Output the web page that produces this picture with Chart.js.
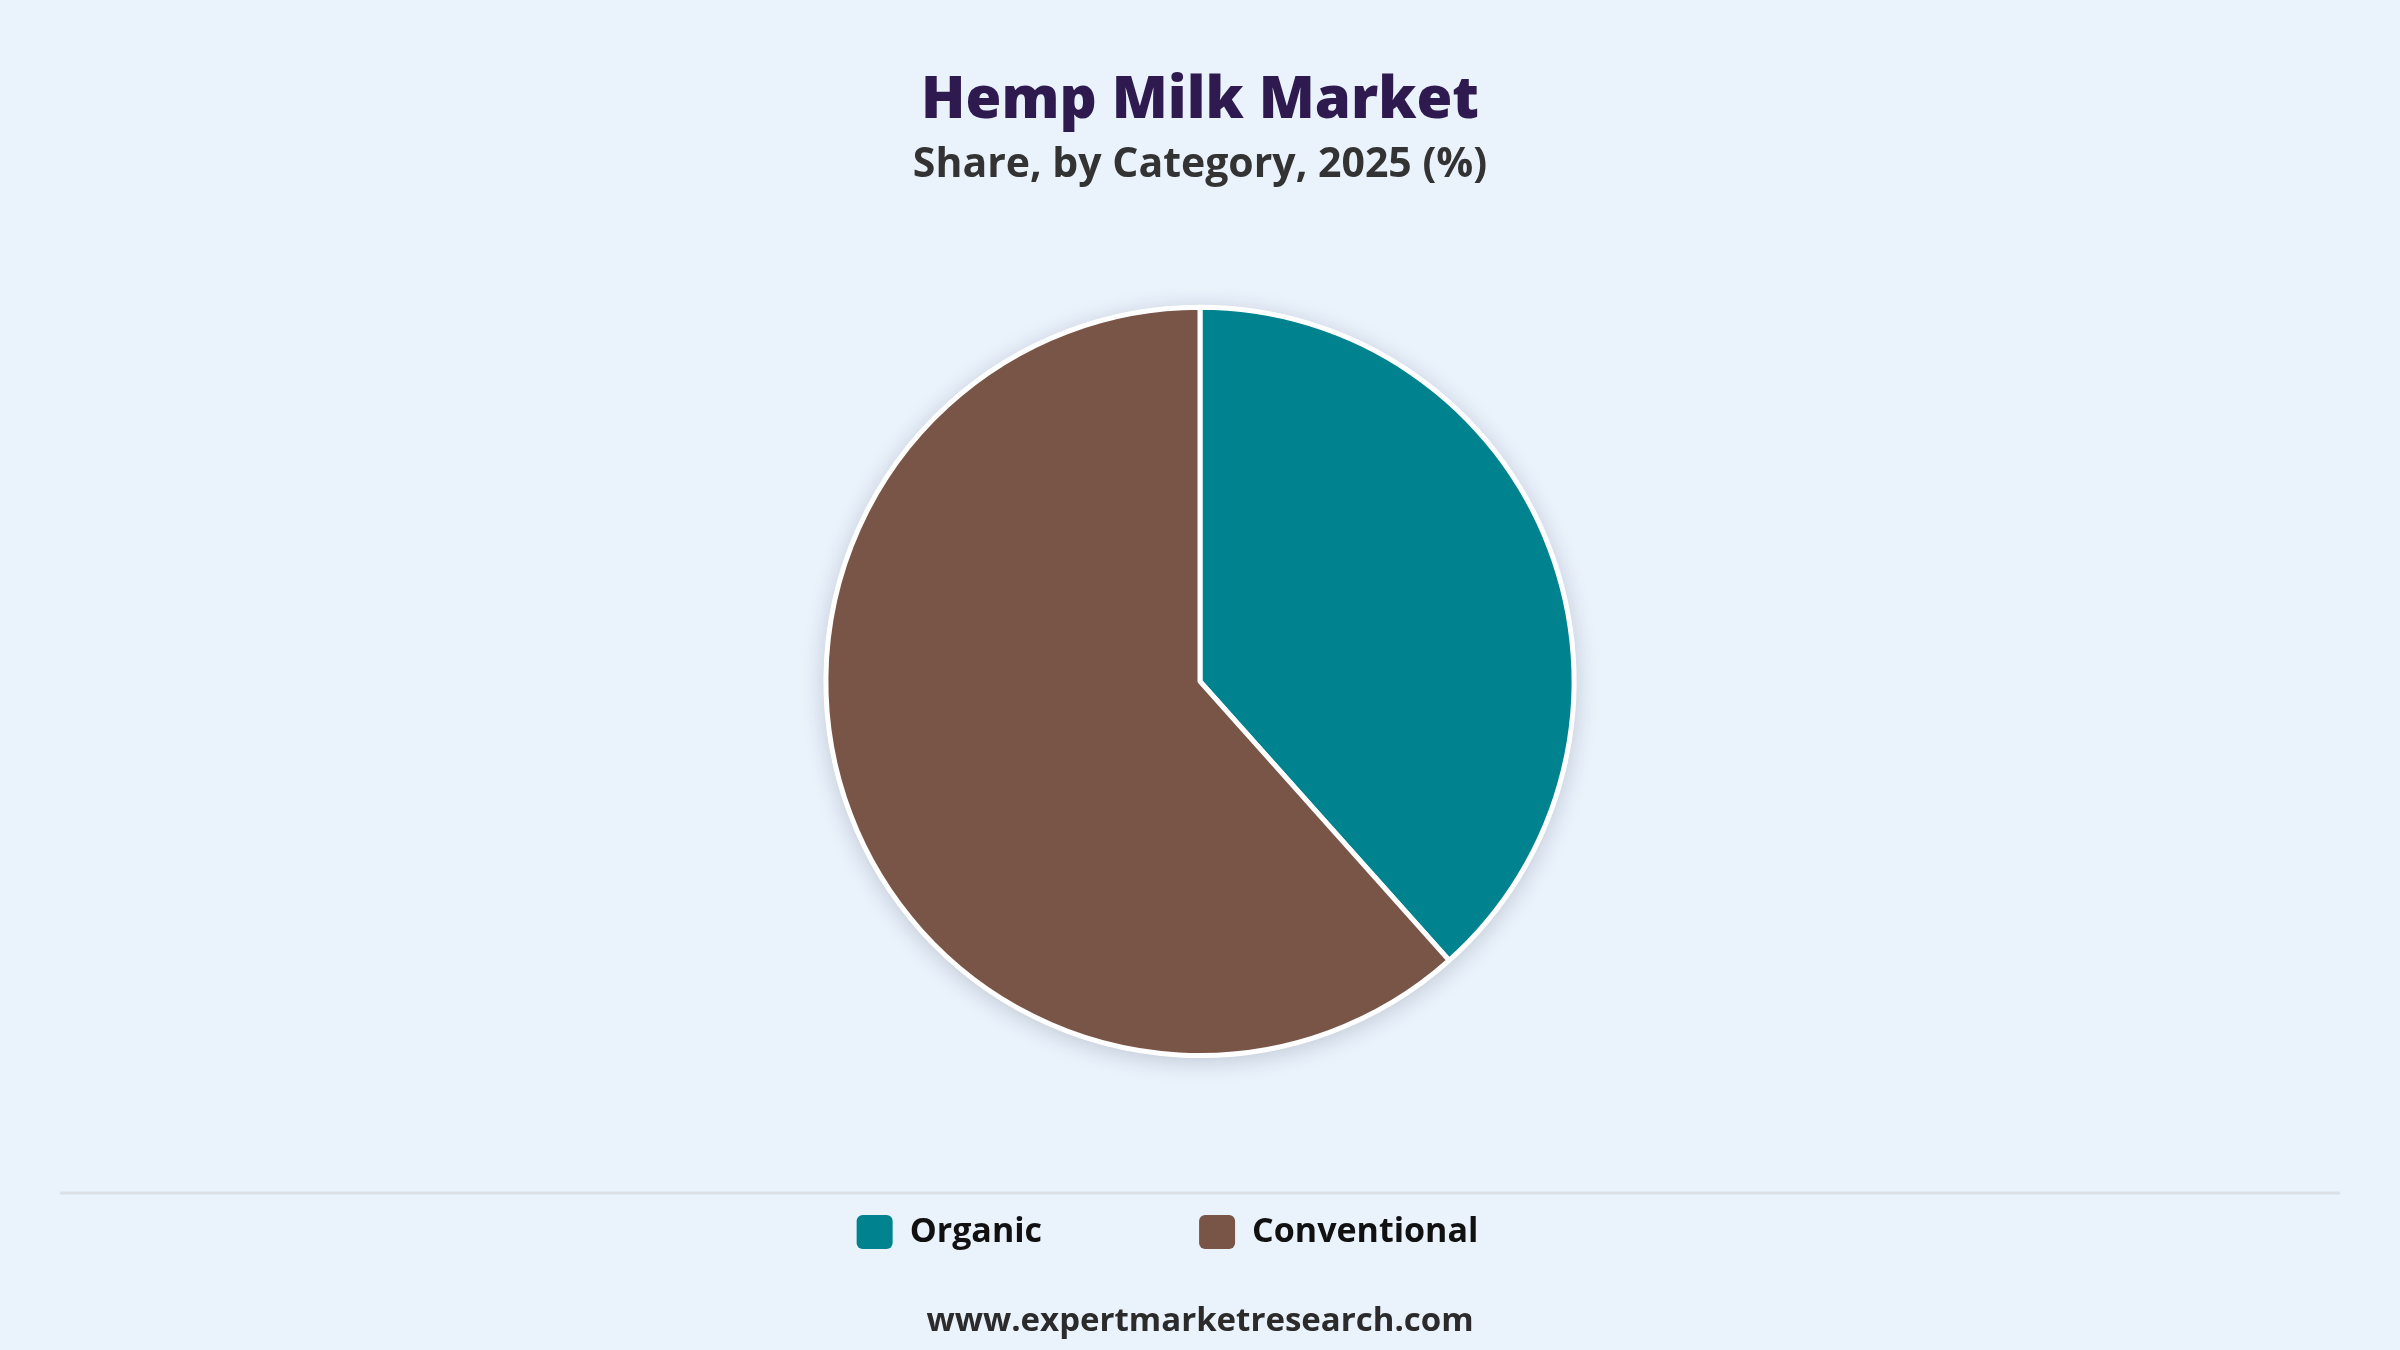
<!DOCTYPE html>
<html>
<head>
<meta charset="utf-8">
<script src="https://cdn.jsdelivr.net/npm/chart.js@4.4.1/dist/chart.umd.min.js"></script>
<style>
  html, body { margin: 0; padding: 0; background: #eaf2fc; }
  #wrap { width: 2400px; height: 1350px; position: relative; }
  canvas { display: block; }
</style>
</head>
<body>
<div id="wrap"><canvas id="c" width="2400" height="1350"></canvas></div>
<script>
// ---- Data ----
const categories = ['Organic', 'Conventional'];
const shares = [38.4, 61.6];
const titleText = 'Hemp Milk Market';
const subtitleText = 'Share, by Category, 2025 (%)';
const footerText = 'www.expertmarketresearch.com';

// ---- Styles ----
const palette = ['#00838F', '#795548'];
const FONT = "'Open Sans', 'Noto Sans', sans-serif";
const LEGEND_SHIFT = 65;

const bgPlugin = {
  id: 'bg',
  beforeDraw(chart) {
    const ctx = chart.ctx;
    ctx.save();
    ctx.fillStyle = '#eaf2fc';
    ctx.fillRect(0, 0, chart.width, chart.height);
    ctx.restore();
  }
};

const shadowPlugin = {
  id: 'pieShadow',
  beforeDatasetsDraw(chart) {
    const meta = chart.getDatasetMeta(0);
    if (!meta.data.length) return;
    const arc = meta.data[0];
    const ctx = chart.ctx;
    ctx.save();
    ctx.shadowColor = 'rgba(40, 50, 70, 0.22)';
    ctx.shadowBlur = 22;
    ctx.shadowOffsetX = 0;
    ctx.shadowOffsetY = 4;
    ctx.fillStyle = '#ffffff';
    ctx.beginPath();
    ctx.arc(arc.x, arc.y, arc.outerRadius + 2, 0, Math.PI * 2);
    ctx.fill();
    ctx.restore();
  }
};

const legendShiftPlugin = {
  id: 'legendShift',
  afterLayout(chart) {
    if (chart.legend && chart.legend.lineWidths) {
      chart.legend.lineWidths[0] += LEGEND_SHIFT;
    }
  }
};

const decorPlugin = {
  id: 'decor',
  afterDraw(chart) {
    const ctx = chart.ctx;
    ctx.save();
    ctx.strokeStyle = '#dcdfe4';
    ctx.lineWidth = 3;
    ctx.beginPath();
    ctx.moveTo(60, 1193);
    ctx.lineTo(2340, 1193);
    ctx.stroke();
    ctx.fillStyle = '#2b2b2b';
    ctx.font = "bold 33px " + FONT;
    ctx.textAlign = 'center';
    ctx.textBaseline = 'middle';
    ctx.fillText(footerText, 1200, 1322);
    ctx.restore();
  }
};

new Chart(document.getElementById('c'), {
  type: 'pie',
  data: {
    labels: categories,
    datasets: [{
      data: shares,
      backgroundColor: palette,
      borderColor: '#ffffff',
      borderWidth: 5,
      hoverOffset: 0
    }]
  },
  options: {
    responsive: false,
    devicePixelRatio: 1,
    animation: false,
    layout: { padding: { top: 0, bottom: 91, left: 0, right: 0 } },
    plugins: {
      title: {
        display: true,
        text: titleText,
        color: '#2e1a4f',
        font: { family: FONT, size: 58, weight: '800', lineHeight: 1.2 },
        padding: { top: 67, bottom: 4 }
      },
      subtitle: {
        display: true,
        text: subtitleText,
        color: '#333333',
        font: { family: FONT, size: 41, weight: 'bold', lineHeight: 1.2 },
        padding: { top: 0, bottom: 115 }
      },
      legend: {
        display: true,
        position: 'bottom',
        labels: {
          boxWidth: 36,
          boxHeight: 34,
          padding: 157,
          color: '#111111',
          useBorderRadius: true,
          borderRadius: 6,
          font: { family: FONT, size: 34, weight: 'bold' },
          generateLabels(chart) {
            const items = Chart.overrides.pie.plugins.legend.labels.generateLabels(chart);
            items.forEach(it => { it.lineWidth = 0; it.strokeStyle = it.fillStyle; });
            return items;
          }
        }
      },
      tooltip: { enabled: false }
    }
  },
  plugins: [bgPlugin, shadowPlugin, legendShiftPlugin, decorPlugin]
});
</script>
</body>
</html>
